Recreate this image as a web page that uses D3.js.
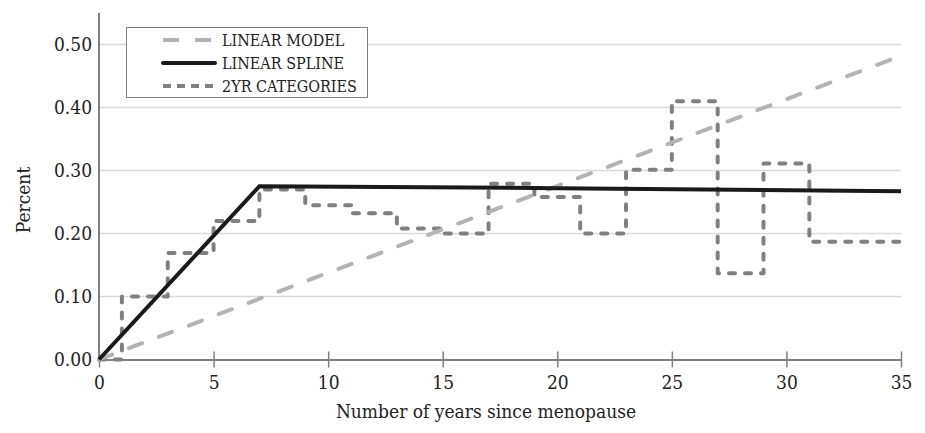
<!DOCTYPE html>
<html>
<head>
<meta charset="utf-8">
<script src="https://cdn.jsdelivr.net/npm/d3@7"></script>
<style>
  body { margin: 0; background: #fff; }
  svg text { font-family: "DejaVu Serif Condensed", "DejaVu Serif", serif; font-stretch: condensed; fill: #222; }
</style>
</head>
<body>
<div id="chart"></div>
<script>
// linear model: straight line from origin
const linearYears = [0, 35];
const linearValues = [0, 0.482];

// linear spline: knot at 7 years
const splineYears = [0, 7, 20, 35];
const splineValues = [0, 0.275, 0.272, 0.267];

// 2-year categories (step function), value holds from start year to next start
const catStarts = [0, 1, 3, 5, 7, 9, 11, 13, 15, 17, 19, 21, 23, 25, 27, 29, 31, 35];
const catValues = [0, 0.10, 0.169, 0.22, 0.27, 0.245, 0.232, 0.208, 0.20, 0.279, 0.258, 0.20, 0.301, 0.41, 0.137, 0.311, 0.187, 0.187];

const xTicks = [0, 5, 10, 15, 20, 25, 30, 35];
const yTicks = [0, 0.1, 0.2, 0.3, 0.4, 0.5];
const legendLabels = ["LINEAR MODEL", "LINEAR SPLINE", "2YR CATEGORIES"];

const width = 925, height = 433;
const margin = { left: 99, right: 24, top: 13, bottom: 74 };

const svg = d3.select("#chart").append("svg")
  .attr("width", width)
  .attr("height", height);

const x = d3.scaleLinear().domain([0, 35]).range([margin.left, width - margin.right]);
const y = d3.scaleLinear().domain([0, 0.5]).range([359.5, 44.5]);

// gridlines
svg.append("g").selectAll("line")
  .data(yTicks.slice(1))
  .enter().append("line")
  .attr("x1", x(0)).attr("x2", x(35))
  .attr("y1", d => y(d)).attr("y2", d => y(d))
  .attr("stroke", "#d9d9d9").attr("stroke-width", 1.5);

// y axis
const yAxis = svg.append("g")
  .attr("transform", `translate(${x(0)},0)`)
  .call(d3.axisLeft(y).tickValues(yTicks).tickFormat(d3.format(".2f")).tickSize(0).tickPadding(7));
yAxis.select(".domain").remove();
yAxis.selectAll("text").attr("font-size", 19).attr("fill", "#222");
svg.append("line")
  .attr("x1", x(0)).attr("x2", x(0))
  .attr("y1", margin.top).attr("y2", y(0))
  .attr("stroke", "#808080").attr("stroke-width", 2);

// x axis
const xAxis = svg.append("g")
  .attr("transform", `translate(0,${y(0)})`)
  .call(d3.axisBottom(x).tickValues(xTicks).tickSizeInner(8).tickSizeOuter(0).tickPadding(8));
xAxis.select(".domain").attr("stroke", "#808080").attr("stroke-width", 2);
xAxis.selectAll(".tick line").attr("stroke", "#808080").attr("stroke-width", 1.5).attr("y1", -8);
xAxis.selectAll("text").attr("font-size", 19).attr("fill", "#222");
// let the css font win over d3's default sans-serif
svg.selectAll("g").attr("font-family", null);

// axis titles
svg.append("text")
  .attr("x", 486).attr("y", 418)
  .attr("text-anchor", "middle").attr("font-size", 19)
  .text("Number of years since menopause");
svg.append("text")
  .attr("transform", "translate(30,200) rotate(-90)")
  .attr("text-anchor", "middle").attr("font-size", 19)
  .text("Percent");

const line = d3.line().x(d => x(d[0])).y(d => y(d[1]));

// step series
svg.append("path")
  .datum(d3.zip(catStarts, catValues))
  .attr("d", line.curve(d3.curveStepAfter))
  .attr("fill", "none")
  .attr("stroke", "#808080").attr("stroke-width", 4)
  .attr("stroke-dasharray", "6 10").attr("stroke-linecap", "round").attr("stroke-linejoin", "round");

line.curve(d3.curveLinear);

svg.append("path")
  .datum(d3.zip(linearYears, linearValues))
  .attr("d", line)
  .attr("fill", "none")
  .attr("stroke", "#b3b3b3").attr("stroke-width", 4)
  .attr("stroke-dasharray", "14 18").attr("stroke-linecap", "round");

svg.append("path")
  .datum(d3.zip(splineYears, splineValues))
  .attr("d", line)
  .attr("fill", "none")
  .attr("stroke", "#1a1a1a").attr("stroke-width", 4);

// legend
const legend = svg.append("g");
legend.append("rect")
  .attr("x", 126.5).attr("y", 27.5).attr("width", 241).attr("height", 70)
  .attr("fill", "#fff").attr("stroke", "#808080").attr("stroke-width", 1);
const legendStyles = [
  { stroke: "#b3b3b3", dash: "16 16", cap: "butt" },
  { stroke: "#1a1a1a", dash: null, cap: "round" },
  { stroke: "#808080", dash: "8 6", cap: "butt" }
];
legendLabels.forEach((lab, i) => {
  const yy = 40 + i * 23;
  legend.append("line")
    .attr("x1", 163).attr("x2", 215).attr("y1", yy).attr("y2", yy)
    .attr("stroke", legendStyles[i].stroke).attr("stroke-width", 4)
    .attr("stroke-dasharray", legendStyles[i].dash)
    .attr("stroke-linecap", legendStyles[i].cap);
  legend.append("text")
    .attr("x", 222).attr("y", yy + 6)
    .attr("font-size", 16)
    .text(lab);
});
</script>
</body>
</html>
